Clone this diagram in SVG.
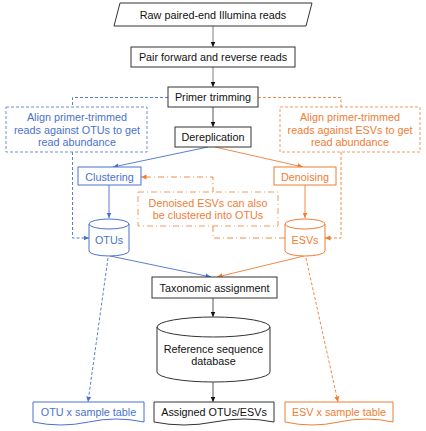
<svg xmlns="http://www.w3.org/2000/svg" width="426" height="431" viewBox="0 0 426 431">
<defs>
<marker id="ak" markerUnits="userSpaceOnUse" markerWidth="6" markerHeight="6" refX="5.5" refY="3" orient="auto"><path d="M0,0.5 L5.5,3 L0,5.5 z" fill="#111"/></marker>
<marker id="ab" markerUnits="userSpaceOnUse" markerWidth="6" markerHeight="6" refX="5.5" refY="3" orient="auto"><path d="M0,0.5 L5.5,3 L0,5.5 z" fill="#4a72cc"/></marker>
<marker id="ao" markerUnits="userSpaceOnUse" markerWidth="6" markerHeight="6" refX="5.5" refY="3" orient="auto"><path d="M0,0.5 L5.5,3 L0,5.5 z" fill="#ef7d35"/></marker>
</defs>
<style>
text{font-family:"Liberation Sans",Arial,sans-serif;font-size:10.8px;text-anchor:middle;dominant-baseline:central}
.k{fill:#fff;stroke:#333;stroke-width:1}
.b{fill:#fff;stroke:#4a72cc;stroke-width:1}
.o{fill:#fff;stroke:#ef7d35;stroke-width:1}
.bd{fill:#fff;stroke:#6f8fd8;stroke-width:1;stroke-dasharray:3 2}
.od{fill:#fff;stroke:#f39a62;stroke-width:1;stroke-dasharray:3 2}
.tk{fill:#111}
.tb{fill:#4a72cc}
.to{fill:#ef7d35}
.c{fill:none;stroke-width:1}
.gk{stroke:#aaa;stroke-width:1.5}
.lk{stroke:#555}
.lb{stroke:#5a7fd0}
.lo{stroke:#f08a4a}
.dash{stroke-dasharray:3 2}
.dd{stroke-dasharray:6 3 1 3}
</style>
<g id="connectors">
<path class="c gk" d="M213,26 V47" marker-end="url(#ak)"/>
<path class="c gk" d="M213,67 V87" marker-end="url(#ak)"/>
<path class="c lk" d="M213,107 V127" marker-end="url(#ak)"/>
<path class="c lb" d="M208,147 L113,167" marker-end="url(#ab)"/>
<path class="c lo" d="M215,147 L303,167" marker-end="url(#ao)"/>
<path class="c lb" d="M109,185 V218" marker-end="url(#ab)"/>
<path class="c lo" d="M305,185 V218" marker-end="url(#ao)"/>
<path class="c lb dash" d="M168,97.5 H72.5 V107"/>
<path class="c lb dash" d="M72.5,152 V238 H89" marker-end="url(#ab)"/>
<path class="c lo dash" d="M258,97.5 H341 V107"/>
<path class="c lo dash" d="M341,152 V238 H325" marker-end="url(#ao)"/>
<path class="c lo dd" d="M285,238 H213 V177 H141" marker-end="url(#ao)"/>
<path class="c lb" d="M110,256 L211,277" marker-end="url(#ab)"/>
<path class="c lo" d="M304,256 L217,277" marker-end="url(#ao)"/>
<path class="c lk" d="M213,298 V317" marker-end="url(#ak)"/>
<path class="c lk" d="M213,382 V402" marker-end="url(#ak)"/>
<path class="c lb dash" d="M108,258 L88,402" marker-end="url(#ab)"/>
<path class="c lo dash" d="M306,258 L338,402" marker-end="url(#ao)"/>
</g>
<g id="raw">
<path class="k" d="M120,3 H312 L306,26 H114 Z"/>
<text class="tk" x="213" y="15">Raw paired-end Illumina reads</text>
</g>
<g id="pair">
<rect class="k" x="131" y="47" width="164" height="20"/>
<text class="tk" x="213" y="57">Pair forward and reverse reads</text>
</g>
<g id="primer">
<rect class="k" x="168" y="87" width="90" height="20"/>
<text class="tk" x="213" y="97">Primer trimming</text>
</g>
<g id="derep">
<rect class="k" x="175" y="127" width="76" height="20"/>
<text class="tk" x="213" y="137">Dereplication</text>
</g>
<g id="align-otu">
<rect class="bd" x="6" y="107" width="141" height="45"/>
<text class="tb" x="77" y="117">Align primer-trimmed</text>
<text class="tb" x="77" y="129.5">reads against OTUs to get</text>
<text class="tb" x="77" y="142">read abundance</text>
</g>
<g id="align-esv">
<rect class="od" x="280" y="107" width="140" height="45"/>
<text class="to" x="350" y="117">Align primer-trimmed</text>
<text class="to" x="350" y="129.5">reads against ESVs to get</text>
<text class="to" x="350" y="142">read abundance</text>
</g>
<g id="clustering">
<rect class="b" x="78" y="167" width="63" height="18"/>
<text class="tb" x="109.5" y="176.5">Clustering</text>
</g>
<g id="denoising">
<rect class="o" x="274" y="167" width="62" height="18"/>
<text class="to" x="305" y="176.5">Denoising</text>
</g>
<g id="note">
<rect class="od" x="138" y="192" width="140" height="34" style="stroke-dasharray:6 3 1 3"/>
<text class="to" x="208" y="202.5">Denoised ESVs can also</text>
<text class="to" x="208" y="215">be clustered into OTUs</text>
</g>
<g id="otus">
<path class="b" d="M89,224 A20,5 0 0 1 129,224 V251 A20,5 0 0 1 89,251 Z"/>
<path class="b" d="M89,224 A20,5 0 0 0 129,224" style="fill:none"/>
<text class="tb" x="109" y="240">OTUs</text>
</g>
<g id="esvs">
<path class="o" d="M285,224 A20,5 0 0 1 325,224 V251 A20,5 0 0 1 285,251 Z"/>
<path class="o" d="M285,224 A20,5 0 0 0 325,224" style="fill:none"/>
<text class="to" x="305" y="240">ESVs</text>
</g>
<g id="taxonomic">
<rect class="k" x="152" y="277" width="125" height="21"/>
<text class="tk" x="214.5" y="287.5">Taxonomic assignment</text>
</g>
<g id="refdb">
<path class="k" d="M157,327 A56.5,10 0 0 1 270,327 V372 A56.5,10 0 0 1 157,372 Z"/>
<path class="k" d="M157,327 A56.5,10 0 0 0 270,327" style="fill:none"/>
<text class="tk" x="213.5" y="349">Reference sequence</text>
<text class="tk" x="213.5" y="361">database</text>
</g>
<g id="otu-table">
<path class="b" d="M33,402 H144 V422 Q116,416 88.5,422 Q61,428 33,422 Z"/>
<text class="tb" x="88.5" y="412">OTU x sample table</text>
</g>
<g id="assigned">
<path class="k" d="M154,402 H274 V422 Q244,416 214,422 Q184,428 154,422 Z"/>
<text class="tk" x="214" y="412">Assigned OTUs/ESVs</text>
</g>
<g id="esv-table">
<path class="o" d="M285,402 H393 V422 Q366,416 339,422 Q312,428 285,422 Z"/>
<text class="to" x="339" y="412">ESV x sample table</text>
</g>
</svg>
